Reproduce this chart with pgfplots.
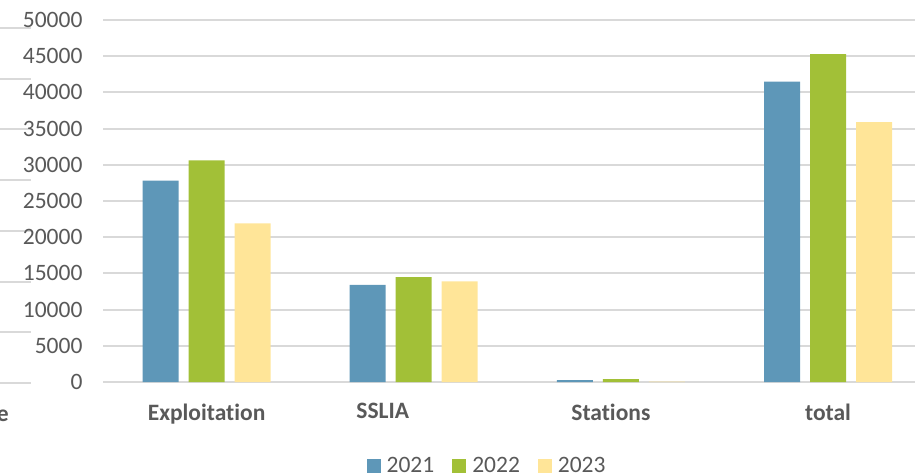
\documentclass[border=0pt]{standalone}
\usepackage{pgfplots}
\pgfplotsset{compat=1.18}
\usepackage{fontspec}
\setmainfont[Ligatures=NoCommon]{Carlito}
\definecolor{cBlue}{HTML}{5E97B8}
\definecolor{cGreen}{HTML}{A2C037}
\definecolor{cYellow}{HTML}{FFE598}
\definecolor{gridgrey}{HTML}{D9D9D9}
\definecolor{txtgrey}{HTML}{595959}
\begin{document}
\begin{tikzpicture}[x=1pt,y=1pt]
\useasboundingbox (0,0) rectangle (915,475);
% partial elements of a neighbouring chart, cut off at the left edge
\foreach \yy in {447,396,346,295,244,193,143,92}{
  \draw[gridgrey,line width=2pt] (0,\yy) -- (31,\yy);
}
\node[anchor=base east,inner sep=0pt,text=txtgrey,font=\fontsize{23.5}{28}\selectfont\bfseries] at (9,54) {e};
\begin{axis}[
  at={(103pt,93pt)}, anchor=south west,
  scale only axis, width=812pt, height=362pt,
  ybar=10pt, bar width=36pt,
  xmin=-0.5, xmax=3.42, ymin=0, ymax=50000,
  xtick={0,1,2,3},
  xticklabels={Exploitation,SSLIA\hspace*{62pt},Stations\hspace*{20pt},total},
  ytick={0,5000,...,50000},
  ymajorgrids, grid style={gridgrey,line width=2pt},
  axis line style={draw=none},
  major tick length=0pt,
  /pgf/number format/assume math mode=true,
  scaled y ticks=false,
  yticklabel style={/pgf/number format/fixed,/pgf/number format/1000 sep={},
    font=\fontsize{23.5}{28}\selectfont, text=txtgrey, xshift=-17pt},
  xticklabel style={font=\fontsize{23.5}{28}\selectfont\bfseries, text=txtgrey, yshift=-18pt},
  legend columns=3,
  legend style={at={(0.473,-0.232)}, anchor=center, draw=none, fill=none,
    font=\fontsize{23.5}{28}\selectfont, text=txtgrey,
    /tikz/every odd column/.append style={column sep=4pt},
    /tikz/every even column/.append style={column sep=16pt}},
  legend image code/.code={\fill[#1] (0pt,-7pt) rectangle (14pt,7pt);},
]
\addplot[fill=cBlue,draw=none] coordinates {(0,27800) (1,13400) (2,250) (3,41500)};
\addplot[fill=cGreen,draw=none] coordinates {(0,30600) (1,14500) (2,400) (3,45300)};
\addplot[fill=cYellow,draw=none] coordinates {(0,21900) (1,13900) (2,60) (3,35900)};
\legend{2021,2022,2023}
\end{axis}
\end{tikzpicture}
\end{document}
